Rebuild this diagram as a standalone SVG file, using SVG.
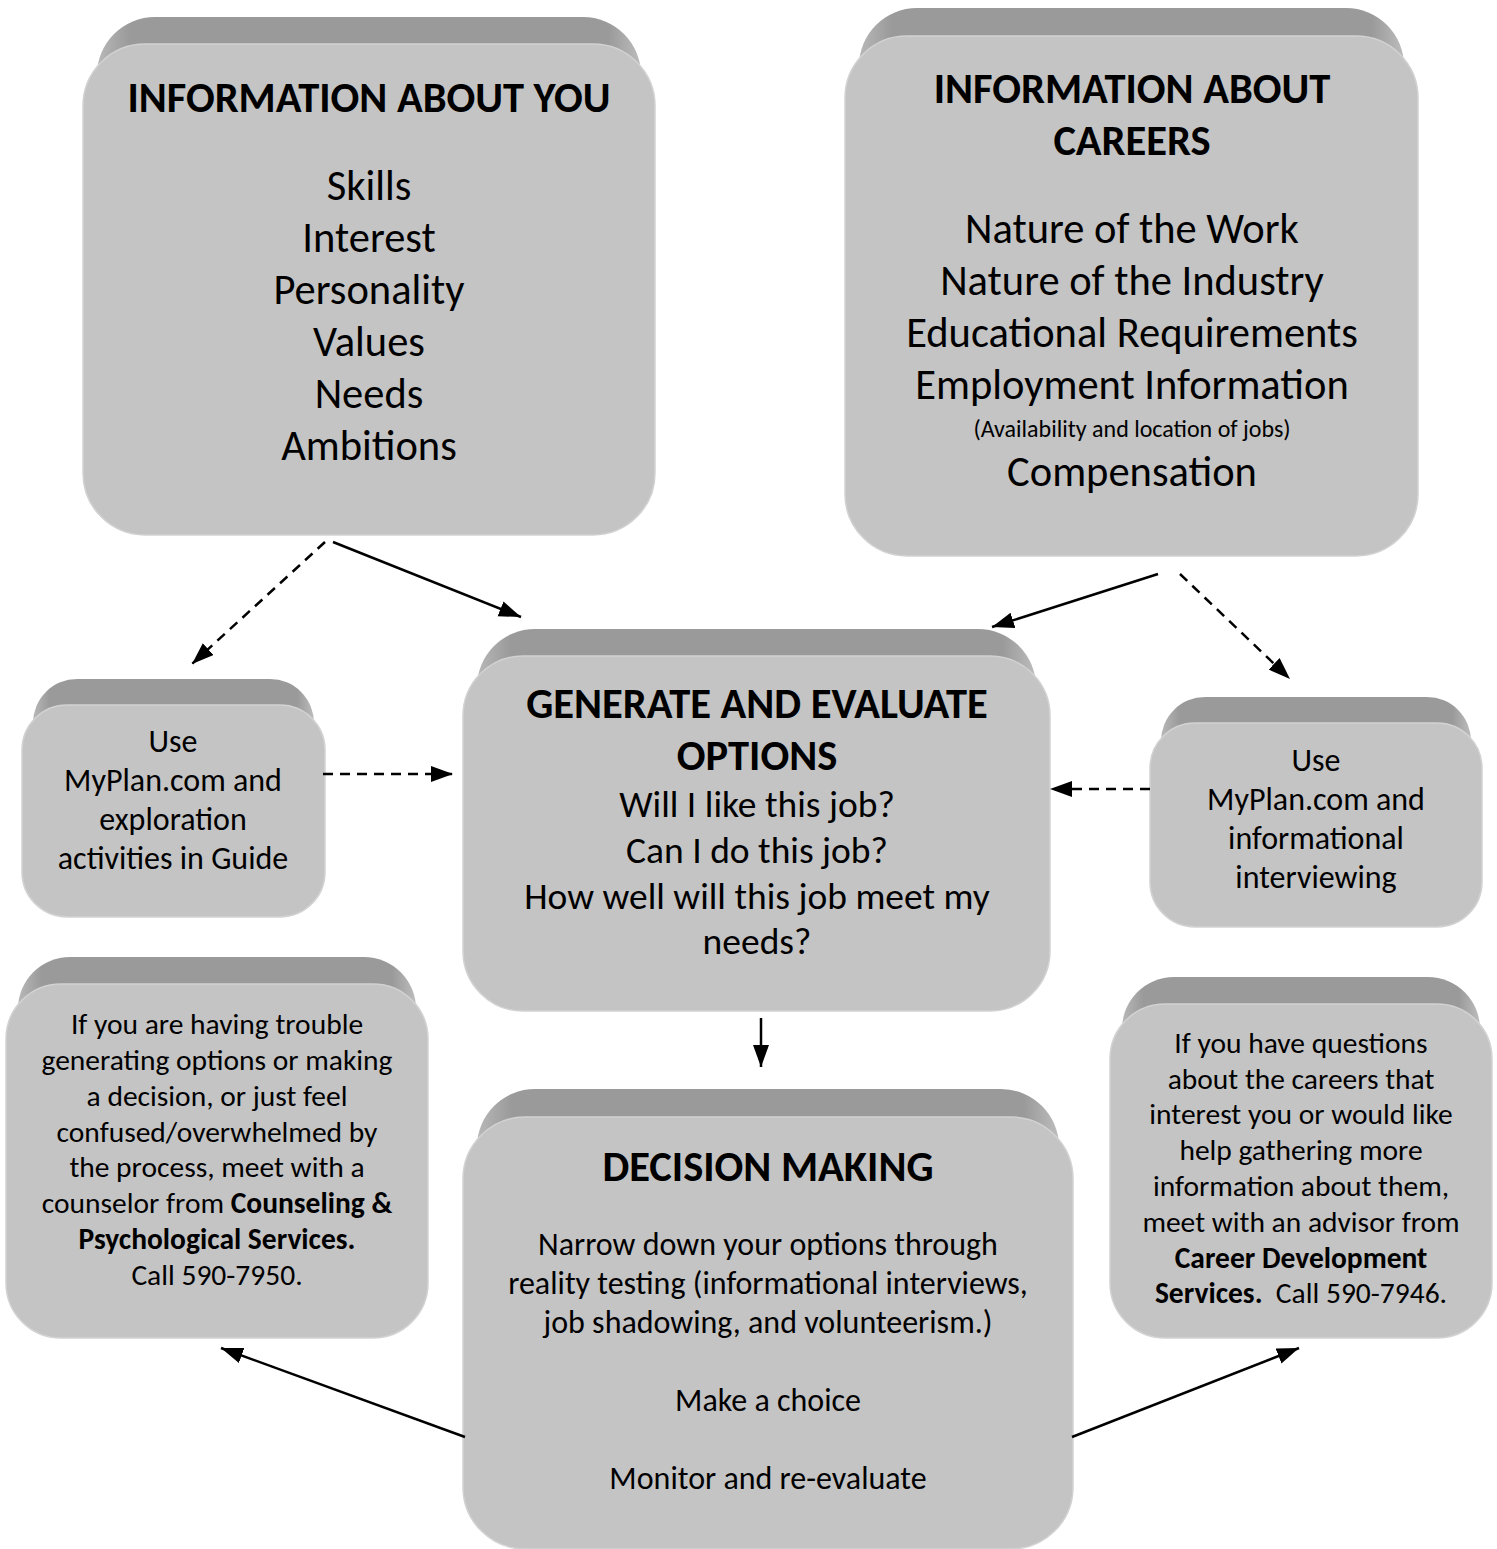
<svg xmlns="http://www.w3.org/2000/svg" width="1497" height="1549" viewBox="0 0 1497 1549">
<style>
.bevel{fill:url(#bev)}
.body{fill:#c4c4c4;stroke:#d2d2d2;stroke-width:1.5}
text{font-family:Carlito,Lato,"Open Sans",sans-serif;fill:#000;text-anchor:middle}
.t{font-weight:bold;font-size:42.5px}
.l{font-size:42.5px}
.s{font-size:24px}
.q{font-size:37.5px}
.m{font-size:32px}
.p{font-size:29.5px}
.b{font-weight:bold}
.c{fill:none;stroke:#000;stroke-width:2.5}
.d{stroke-dasharray:10 7}
</style>
<defs>
<linearGradient id="bev" x1="0" y1="0" x2="1" y2="0">
<stop offset="0" stop-color="#b8b8b8"/>
<stop offset="0.06" stop-color="#9a9a9a"/>
<stop offset="0.94" stop-color="#9a9a9a"/>
<stop offset="1" stop-color="#bdbdbd"/>
</linearGradient>
<marker id="ah" markerUnits="userSpaceOnUse" markerWidth="24" markerHeight="18" refX="22" refY="8" orient="auto">
<path d="M0,0 L22,8 L0,16 z" fill="#000"/>
</marker>
</defs>

<g id="info-you">
<rect class="bevel" x="97" y="17" width="544" height="120" rx="58"/>
<rect class="body" x="83" y="44" width="572" height="491" rx="62"/>
<text class="t" x="369" y="112">INFORMATION ABOUT YOU</text>
<text class="l" x="369" y="200">Skills</text>
<text class="l" x="369" y="252">Interest</text>
<text class="l" x="369" y="304">Personality</text>
<text class="l" x="369" y="356">Values</text>
<text class="l" x="369" y="408">Needs</text>
<text class="l" x="369" y="460">Ambitions</text>
</g>

<g id="info-careers">
<rect class="bevel" x="859" y="8" width="545" height="120" rx="58"/>
<rect class="body" x="845" y="36" width="573" height="520" rx="62"/>
<text class="t" x="1132" y="103">INFORMATION ABOUT</text>
<text class="t" x="1132" y="155">CAREERS</text>
<text class="l" x="1132" y="243">Nature of the Work</text>
<text class="l" x="1132" y="295">Nature of the Industry</text>
<text class="l" x="1132" y="347">Educational Requirements</text>
<text class="l" x="1132" y="399">Employment Information</text>
<text class="s" x="1132" y="437">(Availability and location of jobs)</text>
<text class="l" x="1132" y="486">Compensation</text>
</g>

<g id="myplan-left">
<rect class="bevel" x="33" y="679" width="281" height="100" rx="44"/>
<rect class="body" x="22" y="705" width="303" height="212" rx="45"/>
<text class="m" x="173" y="752">Use</text>
<text class="m" x="173" y="791">MyPlan.com and</text>
<text class="m" x="173" y="830">exploration</text>
<text class="m" x="173" y="869">activities in Guide</text>
</g>

<g id="generate">
<rect class="bevel" x="477" y="629" width="559" height="120" rx="58"/>
<rect class="body" x="463" y="656" width="587" height="355" rx="60"/>
<text class="t" x="757" y="718">GENERATE AND EVALUATE</text>
<text class="t" x="757" y="770">OPTIONS</text>
<text class="q" x="757" y="817">Will I like this job?</text>
<text class="q" x="757" y="863">Can I do this job?</text>
<text class="q" x="757" y="909">How well will this job meet my</text>
<text class="q" x="757" y="954">needs?</text>
</g>

<g id="myplan-right">
<rect class="bevel" x="1161" y="697" width="310" height="100" rx="44"/>
<rect class="body" x="1150" y="723" width="332" height="204" rx="45"/>
<text class="m" x="1316" y="771">Use</text>
<text class="m" x="1316" y="810">MyPlan.com and</text>
<text class="m" x="1316" y="849">informational</text>
<text class="m" x="1316" y="888">interviewing</text>
</g>

<g id="counseling">
<rect class="bevel" x="18" y="957" width="398" height="110" rx="52"/>
<rect class="body" x="6" y="984" width="422" height="354" rx="55"/>
<text class="p" x="217" y="1034">If you are having trouble</text>
<text class="p" x="217" y="1070">generating options or making</text>
<text class="p" x="217" y="1106">a decision, or just feel</text>
<text class="p" x="217" y="1142">confused/overwhelmed by</text>
<text class="p" x="217" y="1177">the process, meet with a</text>
<text class="p" x="217" y="1213">counselor from <tspan class="b">Counseling &amp;</tspan></text>
<text class="p b" x="217" y="1249">Psychological Services.</text>
<text class="p" x="217" y="1285">Call 590-7950.</text>
</g>

<g id="decision">
<rect class="bevel" x="477" y="1089" width="582" height="120" rx="58"/>
<rect class="body" x="463" y="1117" width="610" height="432" rx="62"/>
<text class="t" x="768" y="1181">DECISION MAKING</text>
<text class="m" x="768" y="1255">Narrow down your options through</text>
<text class="m" x="768" y="1294">reality testing (informational interviews,</text>
<text class="m" x="768" y="1333">job shadowing, and volunteerism.)</text>
<text class="m" x="768" y="1411">Make a choice</text>
<text class="m" x="768" y="1489">Monitor and re-evaluate</text>
</g>

<g id="career-dev">
<rect class="bevel" x="1122" y="977" width="358" height="110" rx="52"/>
<rect class="body" x="1110" y="1004" width="382" height="334" rx="55"/>
<text class="p" x="1301" y="1053">If you have questions</text>
<text class="p" x="1301" y="1089">about the careers that</text>
<text class="p" x="1301" y="1124">interest you or would like</text>
<text class="p" x="1301" y="1160">help gathering more</text>
<text class="p" x="1301" y="1196">information about them,</text>
<text class="p" x="1301" y="1232">meet with an advisor from</text>
<text class="p b" x="1301" y="1268">Career Development</text>
<text class="p" x="1301" y="1303"><tspan class="b">Services.</tspan> &#160;Call 590-7946.</text>
</g>

<g id="connectors">
<line class="c d" x1="325" y1="542" x2="192" y2="664" marker-end="url(#ah)"/>
<line class="c" x1="333" y1="542" x2="521" y2="617" marker-end="url(#ah)"/>
<line class="c" x1="1158" y1="574" x2="992" y2="627" marker-end="url(#ah)"/>
<line class="c d" x1="1180" y1="574" x2="1290" y2="679" marker-end="url(#ah)"/>
<line class="c d" x1="323" y1="774" x2="453" y2="774" marker-end="url(#ah)"/>
<line class="c d" x1="1150" y1="789" x2="1050" y2="789" marker-end="url(#ah)"/>
<line class="c" x1="761" y1="1018" x2="761" y2="1067" marker-end="url(#ah)"/>
<line class="c" x1="465" y1="1437" x2="221" y2="1348" marker-end="url(#ah)"/>
<line class="c" x1="1072" y1="1437" x2="1299" y2="1348" marker-end="url(#ah)"/>
</g>
</svg>
